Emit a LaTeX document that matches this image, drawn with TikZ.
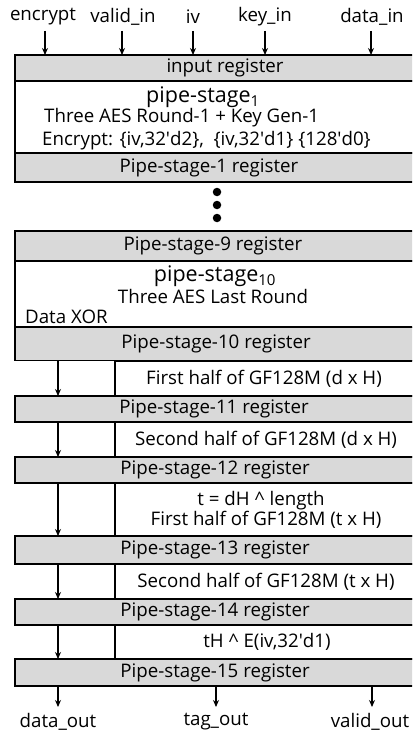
\documentclass[tikz,border=0pt]{standalone}
\usepackage{fontspec}
\setmainfont{Open Sans}
\usetikzlibrary{arrows.meta}
\definecolor{regfill}{RGB}{217,217,217}
\tikzset{
  regbox/.style={draw=black, fill=regfill, line width=1.2pt, inner sep=0pt, outer sep=0pt, minimum width=430pt},
  stagebox/.style={draw=black, fill=white, line width=1.2pt, inner sep=0pt, outer sep=0pt, minimum width=430pt},
  halfbox/.style={draw=black, fill=white, line width=1.2pt, inner sep=0pt, outer sep=0pt, minimum width=330pt},
  txt/.style={inner sep=0pt, font=\fontsize{18.7}{21}\selectfont},
  bigtxt/.style={inner sep=0pt, font=\fontsize{21.5}{24}\selectfont},
  arr/.style={line width=1.2pt, -{Stealth[length=7pt,width=6pt]}},
  blackdot/.style={circle, fill=black, inner sep=0pt, minimum size=8.5pt}
}
\newcommand{\sq}{\textquotesingle}
\begin{document}
\begin{tikzpicture}[x=1pt,y=-1pt]
\useasboundingbox (0,0) rectangle (412,733);
\clip (0,0) rectangle (412,733);
% top labels
\node[txt] (encrypt) at (43,17) {encrypt};
\node[txt] (validin) at (123,17) {valid\_in};
\node[txt] (iv) at (193,17) {iv};
\node[txt] (keyin) at (265,17) {key\_in};
\node[txt] (datain) at (372,17) {data\_in};
% stage 1
\node[stagebox, minimum height=72pt] (s1) at (230,117) {};
\node[regbox, minimum height=26pt] (r0) at (230,68) {};
\node[regbox, minimum height=29pt] (r1) at (230,167.5) {};
\node[txt] (t0) at (225,68) {input register};
\node[bigtxt, anchor=base] (ps1) at (203,102.5) {pipe-stage\textsubscript{1}};
\node[txt, anchor=base west] (ps1a) at (44,123) {Three AES Round-1 + Key Gen-1};
\node[txt, anchor=base west] (ps1b) at (42,145) {Encrypt: \{iv,32\sq d2\},\ \ \{iv,32\sq d1\} \{128\sq d0\}};
\node[txt] (t1) at (209,167.5) {Pipe-stage-1 register};
% dots
\node[blackdot] (d1) at (217,192) {};
\node[blackdot] (d2) at (217,205) {};
\node[blackdot] (d3) at (217,218) {};
% stage 10
\node[stagebox, minimum height=66pt] (s10) at (230,294) {};
\node[regbox, minimum height=30pt] (r9) at (230,246) {};
\node[regbox, minimum height=33pt] (r10) at (230,344) {};
\node[txt] (t9) at (213,246) {Pipe-stage-9 register};
\node[bigtxt, anchor=base] (ps10) at (215,281.5) {pipe-stage\textsubscript{10}};
\node[txt, anchor=base] (ps10a) at (213,303) {Three AES Last Round};
\node[txt, anchor=base west] (ps10b) at (25,323.5) {Data XOR};
\node[txt] (t10) at (216,344) {Pipe-stage-10 register};
% GHASH stages
\node[halfbox, minimum height=35pt] (a1) at (280,378.5) {};
\node[halfbox, minimum height=35pt] (a2) at (280,439.5) {};
\node[halfbox, minimum height=53pt] (a3) at (280,509.5) {};
\node[halfbox, minimum height=35pt] (a4) at (280,581.5) {};
\node[halfbox, minimum height=34pt] (a5) at (280,642) {};
\node[regbox, minimum height=26pt] (r11) at (230,409) {};
\node[regbox, minimum height=26pt] (r12) at (230,470) {};
\node[regbox, minimum height=28pt] (r13) at (230,550) {};
\node[regbox, minimum height=26pt] (r14) at (230,612) {};
\node[regbox, minimum height=27pt] (r15) at (230,672.5) {};
\node[txt] (ta1) at (264,379) {First half of GF128M (d x H)};
\node[txt] (t11) at (214,409) {Pipe-stage-11 register};
\node[txt] (ta2) at (266,440) {Second half of GF128M (d x H)};
\node[txt] (t12) at (215,470) {Pipe-stage-12 register};
\node[txt, anchor=base] (ta3a) at (261,505) {t = dH \^{} length};
\node[txt, anchor=base] (ta3b) at (266,525.5) {First half of GF128M (t x H)};
\node[txt] (t13) at (215,550) {Pipe-stage-13 register};
\node[txt] (ta4) at (266,582) {Second half of GF128M (t x H)};
\node[txt] (t14) at (215,612) {Pipe-stage-14 register};
\node[txt] (ta5) at (267,642) {tH \^{} E(iv,32\sq d1)};
\node[txt] (t15) at (215,672.5) {Pipe-stage-15 register};
% bottom labels
\node[txt] (dataout) at (58,722) {data\_out};
\node[txt] (tagout) at (216,722) {tag\_out};
\node[txt] (validout) at (370,722) {valid\_out};
% input arrows
\foreach \n/\x in {encrypt/45, validin/122, iv/193, keyin/265, datain/371}
  \draw[arr] (\x,31) -- (r0.north -| {(\x,0)});
% side arrows
\coordinate (xl) at (58,0);
\draw[arr] (r10.south -| xl) -- (r11.north -| xl);
\draw[arr] (r11.south -| xl) -- (r12.north -| xl);
\draw[arr] (r12.south -| xl) -- (r13.north -| xl);
\draw[arr] (r13.south -| xl) -- (r14.north -| xl);
\draw[arr] (r14.south -| xl) -- (r15.north -| xl);
% output arrows
\draw[arr] (r15.south -| dataout) -- ++(0,21);
\draw[arr] (r15.south -| tagout) -- ++(0,21);
\draw[arr] (r15.south -| {(372,0)}) -- ++(0,21);
\end{tikzpicture}
\end{document}
